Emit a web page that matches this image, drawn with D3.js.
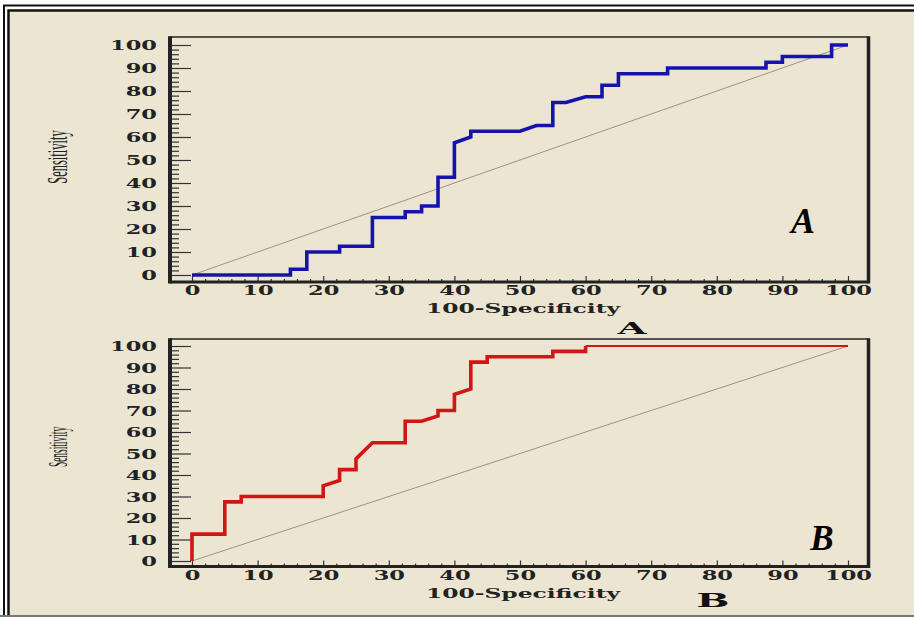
<!DOCTYPE html>
<html>
<head>
<meta charset="utf-8">
<script src="https://cdn.jsdelivr.net/npm/d3@7"></script>
<style>
  html, body { margin: 0; padding: 0; background: #ffffff; }
  svg { display: block; }
</style>
</head>
<body>
<svg id="chart" width="914" height="617"></svg>
<script>
// ROC curve A (blue) - step vertices
var fprA  = [0, 15, 15, 17.5, 17.5, 22.5, 22.5, 27.5, 27.5, 32.5, 32.5, 35, 35, 37.5, 37.5, 40, 40, 42.5, 42.5, 50, 52.5, 55, 55, 57, 60, 62.5, 62.5, 65, 65, 72.5, 72.5, 87.5, 87.5, 90, 90, 97.5, 97.5, 100];
var sensA = [0, 0, 2.5, 2.5, 10, 10, 12.5, 12.5, 25, 25, 27.5, 27.5, 30, 30, 42.5, 42.5, 57.5, 60, 62.5, 62.5, 65, 65, 75, 75, 77.5, 77.5, 82.5, 82.5, 87.5, 87.5, 90, 90, 92.5, 92.5, 95, 95, 100, 100];

// ROC curve B (red)
var fprB  = [0, 0, 5, 5, 7.5, 7.5, 20, 20, 22.5, 22.5, 25, 25, 27.5, 32.5, 32.5, 35, 37.5, 37.5, 40, 40, 42.5, 42.5, 45, 45, 55, 55, 60, 60];
var sensB = [0, 12.5, 12.5, 27.5, 27.5, 30, 30, 35, 37.5, 42.5, 42.5, 47.5, 55, 55, 65, 65, 67.5, 70, 70, 77.5, 80, 92.5, 92.5, 95, 95, 97.5, 97.5, 100];
var tailB = [[60, 100], [100, 100]];

var diagonal = [[0, 0], [100, 100]];
var majorTicks = d3.range(0, 101, 10);
var minorTicks = d3.range(0, 101, 2).filter(function(d) { return d % 10 != 0; });

var xTitle = "100-Specificity";
var yTitle = "Sensitivity";

var svg = d3.select("#chart");

// page background + frame lines
svg.append("rect").attr("x", 10).attr("y", 12).attr("width", 904).attr("height", 603).attr("fill", "#ebe5d1");
svg.append("path").attr("d", "M4,617 V5.5 H914").attr("fill", "none").attr("stroke", "#111").attr("stroke-width", 2);
svg.append("path").attr("d", "M8.5,617 V10.5 H914").attr("fill", "none").attr("stroke", "#111").attr("stroke-width", 2.5);
svg.append("line").attr("x1", 0).attr("x2", 914).attr("y1", 616).attr("y2", 616).attr("stroke", "#777").attr("stroke-width", 2);

var panels = [
  { fpr: fprA, sens: sensA, tail: null, color: "#1414ad", left: 170, top: 37, right: 868.5, bottom: 282,
    y0: 275, y100: 45, tag: "A", tagX: 803, tagY: 233, tagSize: 36,
    titleY: 313, labX: 632, labY: 334, labSize: 17, labScale: 2.2,
    sensY: 157, sensSize: 12.5, sensScale: 2.4 },
  { fpr: fprB, sens: sensB, tail: tailB, color: "#d01616", left: 170, top: 339, right: 868.5, bottom: 566.5,
    y0: 561, y100: 346, tag: "B", tagX: 822, tagY: 550, tagSize: 35,
    titleY: 598, labX: 713, labY: 607, labSize: 19, labScale: 2.05,
    sensY: 447, sensSize: 9.4, sensScale: 3.0 }
];

var serif = "'DejaVu Serif', serif";

panels.forEach(function(p) {
  var x = d3.scaleLinear().domain([0, 100]).range([192, 848]);
  var y = d3.scaleLinear().domain([0, 100]).range([p.y0, p.y100]);
  var g = svg.append("g");

  // y axis: major + minor ticks pointing inward
  var yMajor = g.append("g").attr("transform", "translate(" + p.left + ",0)")
    .call(d3.axisLeft(y).tickValues(majorTicks).tickSize(-21).tickPadding(0));
  yMajor.selectAll("text")
    .attr("x", null).attr("dy", null)
    .attr("transform", "translate(-13,4.5) scale(1.8,1)")
    .attr("text-anchor", "end");
  g.append("g").attr("transform", "translate(" + p.left + ",0)")
    .call(d3.axisLeft(y).tickValues(minorTicks).tickSize(-9).tickFormat(""));

  // x axis ticks pointing up
  var xMajor = g.append("g").attr("transform", "translate(0," + p.bottom + ")")
    .call(d3.axisBottom(x).tickValues(majorTicks).tickSize(-6).tickPadding(0));
  xMajor.selectAll("text")
    .attr("y", null).attr("dy", null)
    .attr("transform", "translate(0,13) scale(1.8,1)");
  g.append("g").attr("transform", "translate(0," + p.bottom + ")")
    .call(d3.axisBottom(x).tickValues(minorTicks).tickSize(-3).tickFormat(""));

  g.selectAll(".domain").remove();
  g.selectAll(".tick line").attr("stroke", "#333").attr("stroke-width", 1.2);
  g.selectAll(".tick text")
    .attr("font-family", serif).attr("font-weight", "bold")
    .attr("font-size", 12.5).attr("fill", "#222");

  // frame
  g.append("line").attr("x1", p.left).attr("x2", p.right).attr("y1", p.top).attr("y2", p.top)
    .attr("stroke", "#222").attr("stroke-width", 1.6);
  g.append("line").attr("x1", p.left).attr("x2", p.left).attr("y1", p.top - 0.8).attr("y2", p.bottom + 1.5)
    .attr("stroke", "#222").attr("stroke-width", 4);
  g.append("line").attr("x1", p.right).attr("x2", p.right).attr("y1", p.top - 0.8).attr("y2", p.bottom + 1.5)
    .attr("stroke", "#222").attr("stroke-width", 3.5);
  g.append("line").attr("x1", p.left).attr("x2", p.right).attr("y1", p.bottom).attr("y2", p.bottom)
    .attr("stroke", "#222").attr("stroke-width", 3);

  // chance line
  g.append("path").datum(diagonal)
    .attr("d", d3.line().x(function(d) { return x(d[0]); }).y(function(d) { return y(d[1]); }))
    .attr("fill", "none").attr("stroke", "#9c9484").attr("stroke-width", 1);

  // ROC step curve
  var pts = p.fpr.map(function(v, i) { return [v, p.sens[i]]; });
  var line = d3.line().x(function(d) { return x(d[0]); }).y(function(d) { return y(d[1]); });
  if (p.tail) {
    g.append("path").datum(p.tail).attr("d", line)
      .attr("fill", "none").attr("stroke", p.color).attr("stroke-width", 2.2);
  }
  g.append("path").datum(pts).attr("d", line)
    .attr("fill", "none").attr("stroke", p.color).attr("stroke-width", 3.6)
    .attr("stroke-linejoin", "miter");

  // texts
  g.append("text").text(xTitle)
    .attr("transform", "translate(523," + p.titleY + ") scale(1.8,1)")
    .attr("text-anchor", "middle").attr("font-family", serif).attr("font-weight", "bold")
    .attr("font-size", 13).attr("fill", "#222");
  g.append("text").text(yTitle)
    .attr("transform", "translate(67," + p.sensY + ") scale(" + p.sensScale + ",1) rotate(-90)")
    .attr("text-anchor", "middle").attr("font-family", "'Liberation Serif', serif")
    .attr("font-size", p.sensSize).attr("fill", "#222");
  g.append("text").text(p.tag)
    .attr("transform", "translate(" + p.labX + "," + p.labY + ") scale(" + p.labScale + ",1)")
    .attr("text-anchor", "middle").attr("font-family", serif).attr("font-weight", "bold")
    .attr("font-size", p.labSize).attr("fill", "#111");
  g.append("text").text(p.tag)
    .attr("x", p.tagX).attr("y", p.tagY)
    .attr("text-anchor", "middle").attr("font-family", "'Liberation Serif', serif")
    .attr("font-weight", "bold").attr("font-style", "italic")
    .attr("font-size", p.tagSize).attr("fill", "#000");
});
</script>
</body>
</html>
